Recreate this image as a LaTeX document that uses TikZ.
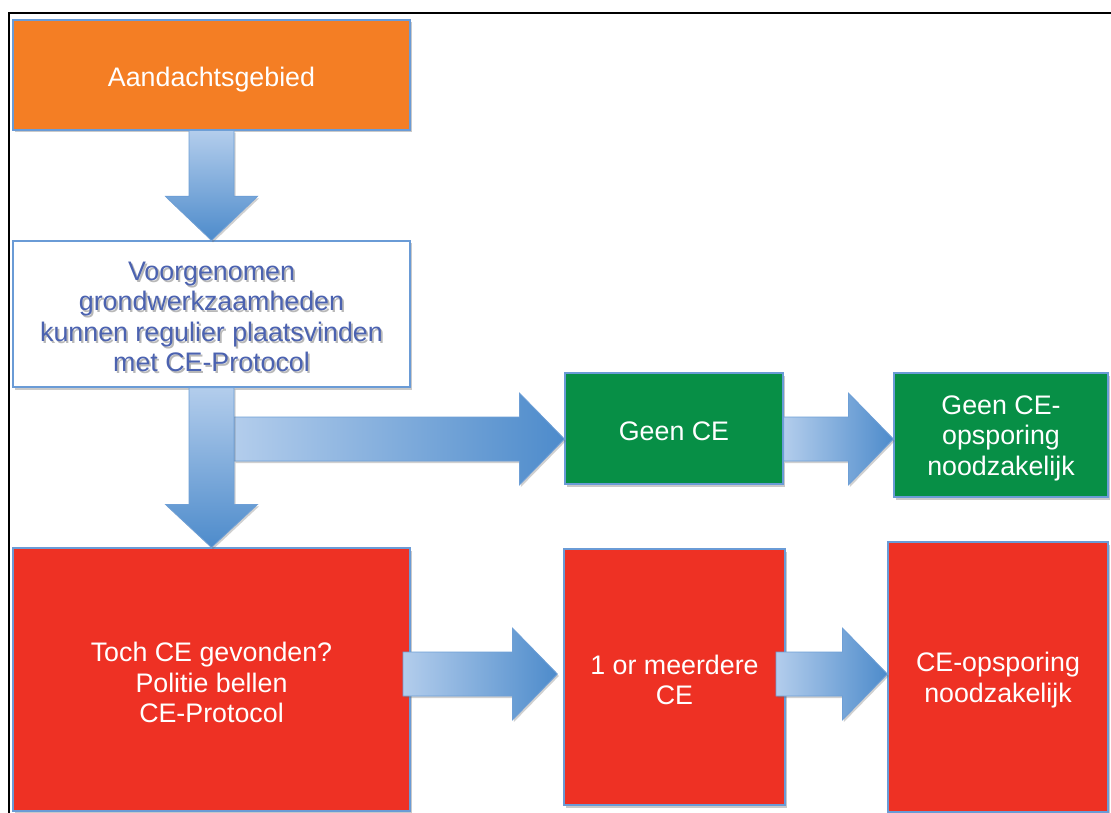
\documentclass[tikz,border=0pt]{standalone}
\usepackage{fontspec}
\setmainfont{Liberation Sans}
\usetikzlibrary{calc,shadows}

\definecolor{boxorange}{HTML}{F47E24}
\definecolor{boxgreen}{HTML}{078F46}
\definecolor{boxred}{HTML}{EE3124}
\definecolor{boxline}{HTML}{6A9BD6}
\definecolor{textblue}{HTML}{4B62B0}
\definecolor{arrowlight}{HTML}{B3CDEC}
\definecolor{arrowdark}{HTML}{4D8BCB}
\definecolor{arrowline}{HTML}{6E9FD6}

\tikzset{
  flowbox/.style={draw=boxline, line width=1.2pt, rectangle, inner sep=0pt,
    drop shadow={shadow xshift=2pt, shadow yshift=-2.5pt, opacity=0.35, fill=black!60}},
  orangebox/.style={flowbox, fill=boxorange},
  greenbox/.style={flowbox, fill=boxgreen},
  redbox/.style={flowbox, fill=boxred},
  whitebox/.style={flowbox, fill=white},
  boxtext/.style={align=center, text=white, inner sep=0pt, yshift=-3pt,
    font=\fontsize{26.8}{30.5}\selectfont},
  bluetext/.style={boxtext, text=textblue},
  textshade/.style={boxtext, text=black, text opacity=0.28},
  blockarrow/.style={draw=arrowline, line width=0.8pt, line join=miter,
    drop shadow={shadow xshift=1.5pt, shadow yshift=-2pt, opacity=0.3, fill=black!60}},
  downarrow/.style={blockarrow, top color=arrowlight, bottom color=arrowdark},
  rightarrow/.style={blockarrow, left color=arrowlight, right color=arrowdark}
}

\newcommand{\plantext}{Voorgenomen\\grondwerkzaamheden\\kunnen regulier plaatsvinden\\met CE-Protocol}

\begin{document}
\begin{tikzpicture}[x=1pt,y=-1pt]
\useasboundingbox (0,0) rectangle (1111,813);
\fill[white] (0,0) rectangle (1111,813);

% outer frame (top and left edges)
\draw[black, line width=2pt] (8.5,813) -- (8.5,13) -- (1111,13);

% boxes, each with its text centred as a label
\node[orangebox, minimum width=397pt, minimum height=110pt,
  label={[boxtext, yshift=-2pt]center:Aandachtsgebied}] (aandacht) at (211.5,75) {};
\node[whitebox, minimum width=397pt, minimum height=146pt,
  label={[textshade, xshift=1.8pt, yshift=-2pt]center:\plantext},
  label={[bluetext]center:\plantext}] (voorgenomen) at (211.5,314) {};

\node[greenbox, minimum width=218pt, minimum height=111pt,
  label={[boxtext]center:Geen CE}] (geence) at (674,428.5) {};
\node[greenbox, minimum width=214pt, minimum height=124pt,
  label={[boxtext]center:Geen CE-\\opsporing\\noodzakelijk}] (geenopsporing) at (1001,435) {};

\node[redbox, minimum width=397pt, minimum height=263pt,
  label={[boxtext]center:Toch CE gevonden?\\Politie bellen\\CE-Protocol}] (toch) at (211.5,679.5) {};
\node[redbox, minimum width=221pt, minimum height=256pt,
  label={[boxtext]center:1 or meerdere\\CE}] (meerdere) at (674.5,677) {};
\node[redbox, minimum width=220pt, minimum height=270pt,
  label={[boxtext]center:CE-opsporing\\noodzakelijk}] (opsporing) at (998,677) {};

% free ends of the side arrows
\coordinate (split) at (234,439);
\coordinate (redstartA) at (403,674);
\coordinate (redstartB) at (776,674);

% horizontal arrow: branch towards "Geen CE"
\path[rightarrow] let \p1=(split), \p2=(geence.west) in
  (\x1,\y1+22pt) -- (\x2-45pt,\y1+22pt) -- (\x2-45pt,\y1+46pt) -- (\x2,\y1)
  -- (\x2-45pt,\y1-46pt) -- (\x2-45pt,\y1-22pt) -- (\x1,\y1-22pt) -- cycle;

% vertical arrows
\path[downarrow] let \p1=(aandacht.south), \p2=(voorgenomen.north) in
  (\x1-22.5pt,\y1) -- (\x1+22.5pt,\y1) -- (\x1+22.5pt,\y2+44pt) -- (\x1+46pt,\y2+44pt)
  -- (\x1,\y2) -- (\x1-46pt,\y2+44pt) -- (\x1-22.5pt,\y2+44pt) -- cycle;
\path[downarrow] let \p1=(voorgenomen.south), \p2=(toch.north) in
  (\x1-22.5pt,\y1) -- (\x1+22.5pt,\y1) -- (\x1+22.5pt,\y2+43pt) -- (\x1+46pt,\y2+43pt)
  -- (\x1,\y2) -- (\x1-46pt,\y2+43pt) -- (\x1-22.5pt,\y2+43pt) -- cycle;

% "Geen CE" -> "Geen CE-opsporing noodzakelijk"
\path[rightarrow] let \p1=(geence.east), \p2=(geenopsporing.west) in
  (\x1,-439pt+22pt) -- (\x2-45pt,-439pt+22pt) -- (\x2-45pt,-439pt+46pt) -- (\x2,-439pt)
  -- (\x2-45pt,-439pt-46pt) -- (\x2-45pt,-439pt-22pt) -- (\x1,-439pt-22pt) -- cycle;

% red row arrows
\path[rightarrow] let \p1=(redstartA), \p2=(meerdere.west) in
  (\x1,\y1+22pt) -- (\x2-51pt,\y1+22pt) -- (\x2-51pt,\y1+46pt) -- (\x2-6pt,\y1)
  -- (\x2-51pt,\y1-46pt) -- (\x2-51pt,\y1-22pt) -- (\x1,\y1-22pt) -- cycle;
\path[rightarrow] let \p1=(redstartB), \p2=(opsporing.west) in
  (\x1,\y1+22pt) -- (\x2-45pt,\y1+22pt) -- (\x2-45pt,\y1+46pt) -- (\x2,\y1)
  -- (\x2-45pt,\y1-46pt) -- (\x2-45pt,\y1-22pt) -- (\x1,\y1-22pt) -- cycle;
\end{tikzpicture}
\end{document}
